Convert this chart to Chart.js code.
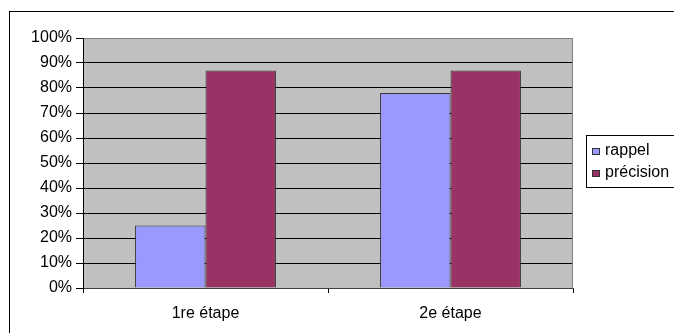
<!DOCTYPE html>
<html>
<head>
<meta charset="utf-8">
<script src="https://cdn.jsdelivr.net/npm/chart.js@4"></script>
<style>
  html, body { margin: 0; padding: 0; background: #fff; }
  #wrap { width: 674px; height: 333px; position: relative; }
</style>
</head>
<body>
<div id="wrap"><canvas id="chart"></canvas></div>
<script>
// ================= Data =================
const categories = ['1re étape', '2e étape'];
const rappel = [25, 78];
const precision = [87, 87];
const seriesNames = ['rappel', 'précision'];
const seriesColors = ['#9999ff', '#993366'];

const FONT = '"Liberation Sans", Arial, sans-serif';

// fond blanc + cadre extérieur + fond gris de la zone de traçage
const backdrop = {
  id: 'backdrop',
  beforeDraw(chart) {
    const { ctx, chartArea: a } = chart;
    ctx.save();
    ctx.fillStyle = '#fff';
    ctx.fillRect(0, 0, chart.width, chart.height);
    ctx.strokeStyle = '#000';
    ctx.lineWidth = 1;
    ctx.strokeRect(9.5, 11.5, 720, 400);
    ctx.fillStyle = '#c0c0c0';
    ctx.fillRect(a.left, a.top, a.right - a.left, a.bottom - a.top);
    ctx.restore();
  },
  beforeDatasetsDraw(chart) {
    const { ctx, chartArea: a } = chart;
    ctx.save();
    ctx.strokeStyle = '#808080';
    ctx.lineWidth = 1;
    ctx.beginPath();
    ctx.moveTo(a.right - 0.5, a.top);
    ctx.lineTo(a.right - 0.5, a.bottom);
    ctx.stroke();
    ctx.restore();
  }
};

// légende dessinée à la main (boîte à droite, coupée par le bord)
const boxLegend = {
  id: 'boxLegend',
  afterDraw(chart) {
    const { ctx } = chart;
    ctx.save();
    ctx.strokeStyle = '#000';
    ctx.lineWidth = 1;
    ctx.fillStyle = '#fff';
    ctx.fillRect(586, 135, 120, 53);
    ctx.strokeRect(586.5, 135.5, 120, 52);
    ctx.font = '16px ' + FONT;
    ctx.textBaseline = 'middle';
    chart.data.datasets.forEach((ds, i) => {
      const y = 151 + i * 22;
      ctx.fillStyle = ds.backgroundColor;
      ctx.fillRect(592, y - 3, 8, 7);
      ctx.strokeStyle = '#333';
      ctx.strokeRect(592.5, y - 2.5, 7, 6);
      ctx.fillStyle = '#000';
      ctx.fillText(ds.label, 605, y);
    });
    ctx.restore();
  }
};

new Chart(document.getElementById('chart'), {
  type: 'bar',
  data: {
    labels: categories,
    datasets: [
      { label: seriesNames[0], data: rappel, backgroundColor: seriesColors[0] },
      { label: seriesNames[1], data: precision, backgroundColor: seriesColors[1] }
    ]
  },
  options: {
    responsive: true,
    maintainAspectRatio: false,
    animation: false,
    layout: { padding: { left: 0, top: 38, right: 101, bottom: 0 } },
    datasets: {
      bar: {
        categoryPercentage: 0.575,
        barPercentage: 1,
        borderWidth: 1,
        borderColor: '#333'
      }
    },
    plugins: {
      legend: { display: false },
      tooltip: { enabled: false }
    },
    scales: {
      x: {
        afterFit(scale) { scale.height = 45; },
        grid: { display: true, drawOnChartArea: false, drawTicks: true, tickLength: 5, offset: true, color: '#000' },
        border: { display: true, color: '#404040' },
        ticks: { color: '#000', padding: 11, font: { family: FONT, size: 16 }, maxRotation: 0 }
      },
      y: {
        min: 0,
        max: 100,
        afterFit(scale) { scale.width = 83; },
        grid: {
          color: (c) => c.tick && c.tick.value === 100 ? '#808080' : '#000',
          tickColor: '#000',
          tickLength: 7,
          lineWidth: 1
        },
        border: { display: true, color: '#000' },
        ticks: {
          stepSize: 10,
          padding: 4,
          color: '#000',
          font: { family: FONT, size: 16 },
          callback: (v) => v + '%'
        }
      }
    }
  },
  plugins: [backdrop, boxLegend]
});
</script>
</body>
</html>
